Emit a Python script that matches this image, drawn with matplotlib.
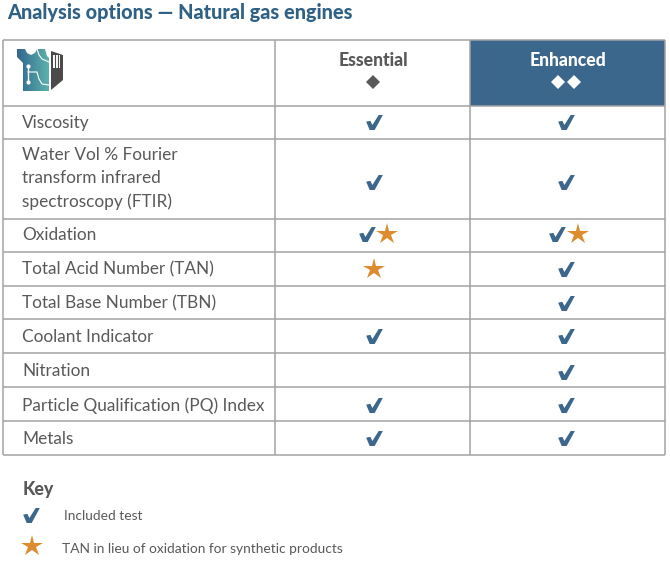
import numpy as np
import matplotlib
matplotlib.use("Agg")
import matplotlib.pyplot as plt
from matplotlib.path import Path
from matplotlib.patches import Polygon, Rectangle
from matplotlib.colors import LinearSegmentedColormap

plt.rcParams['font.family'] = ['Lato', 'DejaVu Sans']

title = "Analysis options \u2014 Natural gas engines"
columns = ["Essential", "Enhanced"]
tiers = [1, 2]
rows = ["Viscosity",
        "Water Vol % Fourier\ntransform infrared\nspectroscopy (FTIR)",
        "Oxidation", "Total Acid Number (TAN)", "Total Base Number (TBN)",
        "Coolant Indicator", "Nitration", "Particle Qualification (PQ) Index", "Metals"]
essential = ["c", "c", "cs", "s", "", "c", "", "c", "c"]
enhanced = ["c", "c", "cs", "c", "c", "c", "c", "c", "c"]
key_items = [("c", "Included test"), ("s", "TAN in lieu of oxidation for synthetic products")]

row_edges = [40, 106, 139, 219, 252, 286, 319, 353, 387, 421, 455]
col_edges = [3, 275, 470, 665]
col_centers = [374, 566]
pair_offsets = [(-7.5, 13), (-9, 11.5)]
text_dy = [.5, -.5, -.5, .5, .5, 1.5, 1.5, 1.5, 1.5]
mark_dy = [-.5, 3, -1.5, 0, .5, 0, 2, 1, 0]

BLUE = "#3B678C"
TITLE = "#2F6187"
ORANGE = "#DD8B2F"
GREY = "#595959"
LINE = "#A3A3A3"

check = Path([(-1, .1), (-.5, .2), (-.25, -.3), (.5, .9), (1, .9), (.02, -.9), (-.58, -.9), (-1, .1)], closed=True)

fig = plt.figure(figsize=(6.7, 5.62), dpi=100)
ax = fig.add_axes([0, 0, 1, 1])
ax.set_xlim(0, 670)
ax.set_ylim(562, 0)
ax.axis("off")

ax.text(7, 12, title, fontsize=14.3, fontweight=900, color=TITLE, va="center", ha="left")

ax.add_patch(Rectangle((col_edges[2], row_edges[0]), col_edges[3]-col_edges[2], row_edges[1]-row_edges[0], color=BLUE, lw=0, zorder=1))
for y in row_edges:
    ax.plot([col_edges[0], col_edges[3]], [y, y], color=LINE, lw=1.1, zorder=2, solid_capstyle="butt")
for x in col_edges:
    ax.plot([x, x], [row_edges[0], row_edges[-1]], color=LINE, lw=1.1, zorder=2, solid_capstyle="butt")


def draw_marks(x, y, code, offs):
    if code == "cs":
        ax.plot(x+offs[0], y, marker=check, ms=12, color=BLUE, mew=0, zorder=3)
        ax.plot(x+offs[1], y-.5, marker="*", ms=16, color=ORANGE, mew=0, zorder=3)
    elif code == "c":
        ax.plot(x, y, marker=check, ms=12, color=BLUE, mew=0, zorder=3)
    elif code == "s":
        ax.plot(x, y, marker="*", ms=16, color=ORANGE, mew=0, zorder=3)


for i, label in enumerate(rows):
    yc = (row_edges[i+1] + row_edges[i+2]) / 2
    ax.text(22, yc+text_dy[i], label, fontsize=12.4, color=GREY, va="center", ha="left", linespacing=1.55)
    draw_marks(col_centers[0], yc+mark_dy[i], essential[i], pair_offsets[0])
    draw_marks(col_centers[1], yc+mark_dy[i], enhanced[i], pair_offsets[1])

colors = [GREY, "white"]
for cx, name, n, c in zip([373, 568], columns, tiers, colors):
    ax.text(cx, 60, name, fontsize=12.7, fontweight=900, color=c, ha="center", va="center")
    offs = np.arange(n) * 16
    offs = offs - offs.mean()
    ax.plot(cx + offs - (0 if n == 1 else 2), np.full(n, 82), ls="", marker="D", ms=7.5, color=c, mew=0, zorder=3)

# logo
grad = LinearSegmentedColormap.from_list("g", ["#33678F", "#5AB3AB"])
im = ax.imshow(np.linspace(0, 1, 64).reshape(1, -1), cmap=grad, extent=(17, 49, 91, 49), aspect="auto", zorder=3)
ax.set_xlim(0, 670)
ax.set_ylim(562, 0)
clip = Polygon([(17, 49), (25, 49), (27, 53), (31, 55), (35, 53), (37, 49), (45, 49), (47, 56), (49, 58), (49, 91), (23, 91), (23, 63), (17, 57)], closed=True, transform=ax.transData)
im.set_clip_path(clip)
ax.plot([28, 28], [66, 82], color="white", lw=1, zorder=4)
ax.plot([28, 28], [66, 82], ls="", marker="o", ms=3, color="white", mew=0, zorder=4)
ax.plot([28, 37, 39, 42, 49], [72, 72, 79, 84, 85], color="white", lw=.8, zorder=4)
ax.plot([37, 39, 42, 49], [49, 55, 59, 62], color="white", lw=.8, zorder=4)
ax.add_patch(Polygon([(51, 51), (63, 55), (63, 80), (51, 90)], color="#4A4A4A", lw=0, zorder=3))
ax.add_patch(Rectangle((53, 55), 7, 13, color="white", lw=0, zorder=4))
for x in (55.3, 57.7):
    ax.plot([x, x], [55, 68], color="#4A4A4A", lw=.8, zorder=5)

# key
ax.text(23, 489, "Key", fontsize=12.8, fontweight=900, color=GREY, va="center", ha="left")
ax.plot(31, 515, marker=check, ms=12, color=BLUE, mew=0)
ax.plot(32, 546, marker="*", ms=16, color=ORANGE, mew=0)
ax.text(64.5, 516, key_items[0][1], fontsize=9.9, color=GREY, va="center", ha="left")
ax.text(62, 549, key_items[1][1], fontsize=9.9, color=GREY, va="center", ha="left")

fig.savefig("out.png", dpi=100)
